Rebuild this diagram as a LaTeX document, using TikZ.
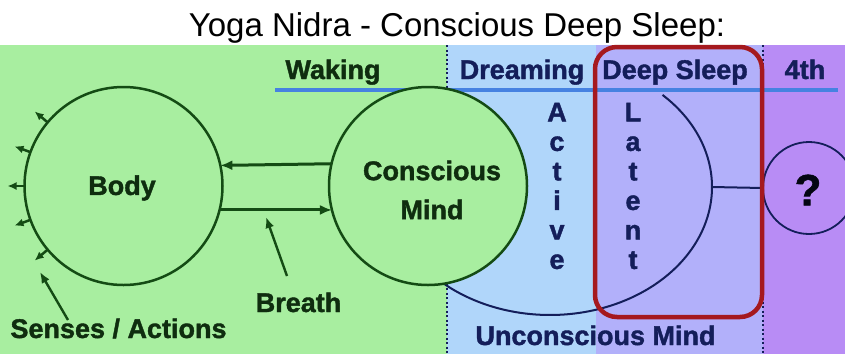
\documentclass[tikz,border=0pt]{standalone}
\usepackage{fontspec}
\setmainfont[BoldFeatures={FakeBold=1.4}]{Liberation Sans}
\usetikzlibrary{arrows.meta}
\definecolor{bggreen}{RGB}{168,238,160}
\definecolor{bgblue}{RGB}{176,214,250}
\definecolor{bglav}{RGB}{178,176,250}
\definecolor{bgpurple}{RGB}{184,140,245}
\definecolor{lineblue}{RGB}{70,130,225}
\definecolor{dkgreen}{RGB}{20,75,20}
\definecolor{txtgreen}{RGB}{15,45,15}
\definecolor{navy}{RGB}{20,30,90}
\definecolor{boxred}{RGB}{165,25,30}
\tikzset{
  lbl/.style={font=\bfseries\fontsize{27}{32}\selectfont, inner sep=0pt},
  glbl/.style={lbl, text=txtgreen},
  blbl/.style={lbl, text=navy},
  bigcirc/.style={circle, draw=dkgreen, line width=2.5pt, fill=bggreen, minimum size=198pt, inner sep=0pt, outer sep=0pt},
  mainarr/.style={draw=dkgreen, line width=3pt, -{Latex[length=12pt,width=10pt]}},
  smallarr/.style={draw=dkgreen, line width=2.5pt, -{Latex[length=9pt,width=8pt]}},
  ptrarr/.style={draw=dkgreen, line width=2.4pt, -{Latex[length=11pt,width=9pt]}},
  vert/.style={font=\bfseries\fontsize{27}{29.5}\selectfont, align=center, inner sep=0pt, text=navy},
  sepline/.style={draw=navy, line width=2pt, dash pattern=on 2pt off 2.5pt}
}
\begin{document}
\begin{tikzpicture}[x=1pt,y=-1pt]
\useasboundingbox (0,0) rectangle (845,354);
% backgrounds
\fill[white] (0,0) rectangle (845,45);
\fill[bggreen] (0,45) rectangle (447,354);
\fill[bgblue] (447,45) rectangle (596,354);
\fill[bglav] (596,45) rectangle (763,354);
\fill[bgpurple] (763,45) rectangle (845,354);
% title
\node[anchor=base, inner sep=0pt, font=\fontsize{33}{36}\selectfont] (title) at (457,36) {Yoga Nidra - Conscious Deep Sleep:};
% separators
\draw[sepline] (447,45) -- (447,354);
\draw[sepline] (763,45) -- (763,354);
% blue line
\draw[lineblue, line width=3.5pt] (275,90) -- (838,90);
% header labels
\node[glbl, anchor=base] (waking) at (333,79) {Waking};
\node[blbl, anchor=base] (dreaming) at (522,79) {Dreaming};
\node[blbl, anchor=base] (deep) at (675,79) {Deep Sleep};
\node[blbl, anchor=base] (fourth) at (805,79) {4th};
% unconscious mind arc
\draw[navy, line width=2pt] plot[domain=140:-46, samples=80, smooth] ({550+162*cos(\x)}, {187+128*sin(\x)});
\coordinate (er) at (712,187);
% circles
\node[bigcirc] (cm) at (428,186) {};
\node[bigcirc] (body) at (123.5,186) {};
\node[glbl, align=center, font=\bfseries\fontsize{27}{39}\selectfont] (cmtext) at (432,190) {Conscious\\Mind};
\node[glbl] (bodytext) at (122,188) {Body};
% arrows between circles
\draw[mainarr] (cm.167.8) -- (body.12.2);
\draw[mainarr] (body.-14) -- (cm.194);
% small sense arrows
\foreach \a in {140,160,180,200,220}
  \draw[smallarr] (body.\a) -- ++(\a:17pt);
% vertical words
\node[vert] (active) at (557,186) {A\\c\\t\\i\\v\\e};
\node[vert] (latent) at (633,186) {L\\a\\t\\e\\n\\t};
% fourth state
\node[circle, draw=navy, line width=1.8pt, fill=bgpurple, minimum size=92pt, inner sep=0pt, outer sep=0pt] (q) at (809,188) {};
\node[blbl, font=\bfseries\fontsize{44}{48}\selectfont, text=black!80!navy] (qtext) at (808,190) {?};
\draw[navy, line width=2pt] (er) -- (q.west);
% red box
\draw[boxred, line width=4.5pt, rounded corners=22pt] (595,47) rectangle (762,317);
% bottom labels
\node[glbl, anchor=base] (senses) at (118.5,338) {Senses / Actions};
\node[glbl, anchor=base] (breath) at (298.5,312) {Breath};
\node[blbl, anchor=base] (uncon) at (595.5,345) {Unconscious Mind};
\coordinate (stail) at (68,320);
\coordinate (stip) at (40,272);
\draw[ptrarr] (stail) -- (stip);
\coordinate (btail) at (287,276);
\coordinate (btip) at (266,217);
\draw[ptrarr] (btail) -- (btip);
\end{tikzpicture}
\end{document}
